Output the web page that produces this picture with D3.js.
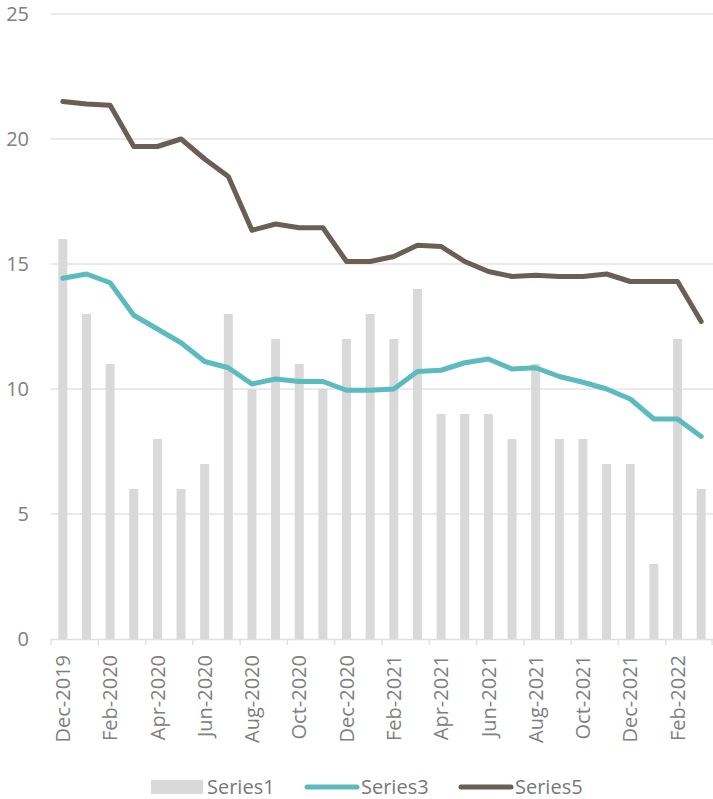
<!DOCTYPE html>
<html>
<head>
<meta charset="utf-8">
<script src="https://cdn.jsdelivr.net/npm/d3@7"></script>
<style>
body { margin: 0; background: #ffffff; }
</style>
</head>
<body>
<div id="chart"></div>
<script>
//
// Data: monthly values Dec-2019 .. Mar-2022
//
var months = ["Dec-2019","Jan-2020","Feb-2020","Mar-2020","Apr-2020","May-2020","Jun-2020",
	"Jul-2020","Aug-2020","Sep-2020","Oct-2020","Nov-2020","Dec-2020","Jan-2021","Feb-2021",
	"Mar-2021","Apr-2021","May-2021","Jun-2021","Jul-2021","Aug-2021","Sep-2021","Oct-2021",
	"Nov-2021","Dec-2021","Jan-2022","Feb-2022","Mar-2022"];

var series1 = [16,13,11,6,8,6,7,13,10,12,11,10,12,13,12,14,9,9,9,8,11,8,8,7,7,3,12,6];

var series3 = [14.43,14.6,14.25,12.95,12.4,11.85,11.1,10.85,10.2,10.4,10.3,10.3,9.95,9.95,
	10.0,10.7,10.75,11.05,11.2,10.8,10.85,10.5,10.27,10.0,9.6,8.8,8.8,8.1];

var series5 = [21.5,21.4,21.35,19.7,19.7,20.0,19.2,18.5,16.35,16.6,16.45,16.45,15.1,15.1,
	15.3,15.75,15.7,15.1,14.7,14.5,14.55,14.5,14.5,14.6,14.3,14.3,14.3,12.7];

var yTicks = [0,5,10,15,20,25];

var legendItems = [
	{name: "Series1", type: "bar", color: "#d9d9d9"},
	{name: "Series3", type: "line", color: "#5bbbbe"},
	{name: "Series5", type: "line", color: "#6b5f55"}
];

//
// Size and margins
//
var W = 713, H = 799;
var margin = {top: 14, right: 0, bottom: 160, left: 51};
var width = W - margin.left - margin.right;
var height = H - margin.top - margin.bottom;

var font = "'Open Sans', sans-serif";
var textColor = "#808080";

var svg = d3.select("#chart").append("svg")
	.attr("width", W)
	.attr("height", H);

var g = svg.append("g")
	.attr("transform", "translate(" + margin.left + "," + margin.top + ")");

//
// Scales
//
var x = d3.scaleBand().domain(months).range([0, width]);
var y = d3.scaleLinear().domain([0, 25]).range([height, 0]);

var barWidth = x.bandwidth() * 0.38;

//
// Grid lines and y labels
//
g.selectAll(".grid")
	.data(yTicks.filter(function(d) { return d > 0; }))
	.enter().append("line")
	.attr("x1", 0)
	.attr("x2", width)
	.attr("y1", function(d) { return y(d); })
	.attr("y2", function(d) { return y(d); })
	.style("stroke", "#e3e3e3")
	.style("stroke-width", 1.5);

g.selectAll(".ylab")
	.data(yTicks)
	.enter().append("text")
	.attr("x", 29 - margin.left)
	.attr("y", function(d) { return y(d); })
	.attr("dy", "0.35em")
	.attr("text-anchor", "end")
	.style("font-family", font)
	.style("font-size", "20px")
	.style("fill", textColor)
	.text(function(d) { return d; });

//
// Bars (Series1)
//
g.selectAll(".bar")
	.data(series1)
	.enter().append("rect")
	.attr("x", function(d, i) { return x(months[i]) + (x.bandwidth() - barWidth) / 2; })
	.attr("y", function(d) { return y(d); })
	.attr("width", barWidth)
	.attr("height", function(d) { return height - y(d); })
	.style("fill", "#d9d9d9");

//
// X axis: ticks every second month boundary, labels on every second month
//
var tickIdx = d3.range(0, months.length + 1, 2);

g.append("line")
	.attr("x1", 0)
	.attr("x2", width)
	.attr("y1", height + 0.5)
	.attr("y2", height + 0.5)
	.style("stroke", "#e0e0e0")
	.style("stroke-width", 1.5);

g.selectAll(".xtick")
	.data(tickIdx)
	.enter().append("line")
	.attr("x1", function(d) { return Math.min(d * x.step(), width - 1); })
	.attr("x2", function(d) { return Math.min(d * x.step(), width - 1); })
	.attr("y1", height)
	.attr("y2", height + 6)
	.style("stroke", "#e0e0e0")
	.style("stroke-width", 1.5);

g.selectAll(".xlab")
	.data(months.filter(function(d, i) { return i % 2 === 0; }))
	.enter().append("text")
	.attr("transform", function(d) {
		return "translate(" + (x(d) + x.bandwidth() / 2) + "," + (height + 16) + ") rotate(-90)";
	})
	.attr("dy", "0.36em")
	.attr("text-anchor", "end")
	.style("font-family", font)
	.style("font-size", "20px")
	.style("fill", textColor)
	.text(function(d) { return d; });

//
// Lines
//
var line = d3.line()
	.x(function(d, i) { return x(months[i]) + x.bandwidth() / 2; })
	.y(function(d) { return y(d); });

g.append("path")
	.attr("d", line(series3))
	.attr("fill", "none")
	.style("stroke", legendItems[1].color)
	.style("stroke-width", 5)
	.style("stroke-linejoin", "round")
	.style("stroke-linecap", "round");

g.append("path")
	.attr("d", line(series5))
	.attr("fill", "none")
	.style("stroke", legendItems[2].color)
	.style("stroke-width", 5)
	.style("stroke-linejoin", "round")
	.style("stroke-linecap", "round");

//
// Legend
//
var legendX = [151, 305, 459];
var legendY = 787;

var leg = svg.selectAll(".legend")
	.data(legendItems)
	.enter().append("g")
	.attr("transform", function(d, i) { return "translate(" + legendX[i] + "," + legendY + ")"; });

leg.filter(function(d) { return d.type === "bar"; })
	.append("rect")
	.attr("x", 0)
	.attr("y", -7)
	.attr("width", 52)
	.attr("height", 14)
	.style("fill", function(d) { return d.color; });

leg.filter(function(d) { return d.type === "line"; })
	.append("line")
	.attr("x1", 2)
	.attr("x2", 52)
	.attr("y1", 0)
	.attr("y2", 0)
	.style("stroke", function(d) { return d.color; })
	.style("stroke-width", 5)
	.style("stroke-linecap", "round");

leg.append("text")
	.attr("x", 56)
	.attr("y", 0)
	.attr("dy", "0.36em")
	.style("font-family", font)
	.style("font-size", "20px")
	.style("fill", "#777777")
	.text(function(d) { return d.name; });
</script>
</body>
</html>
